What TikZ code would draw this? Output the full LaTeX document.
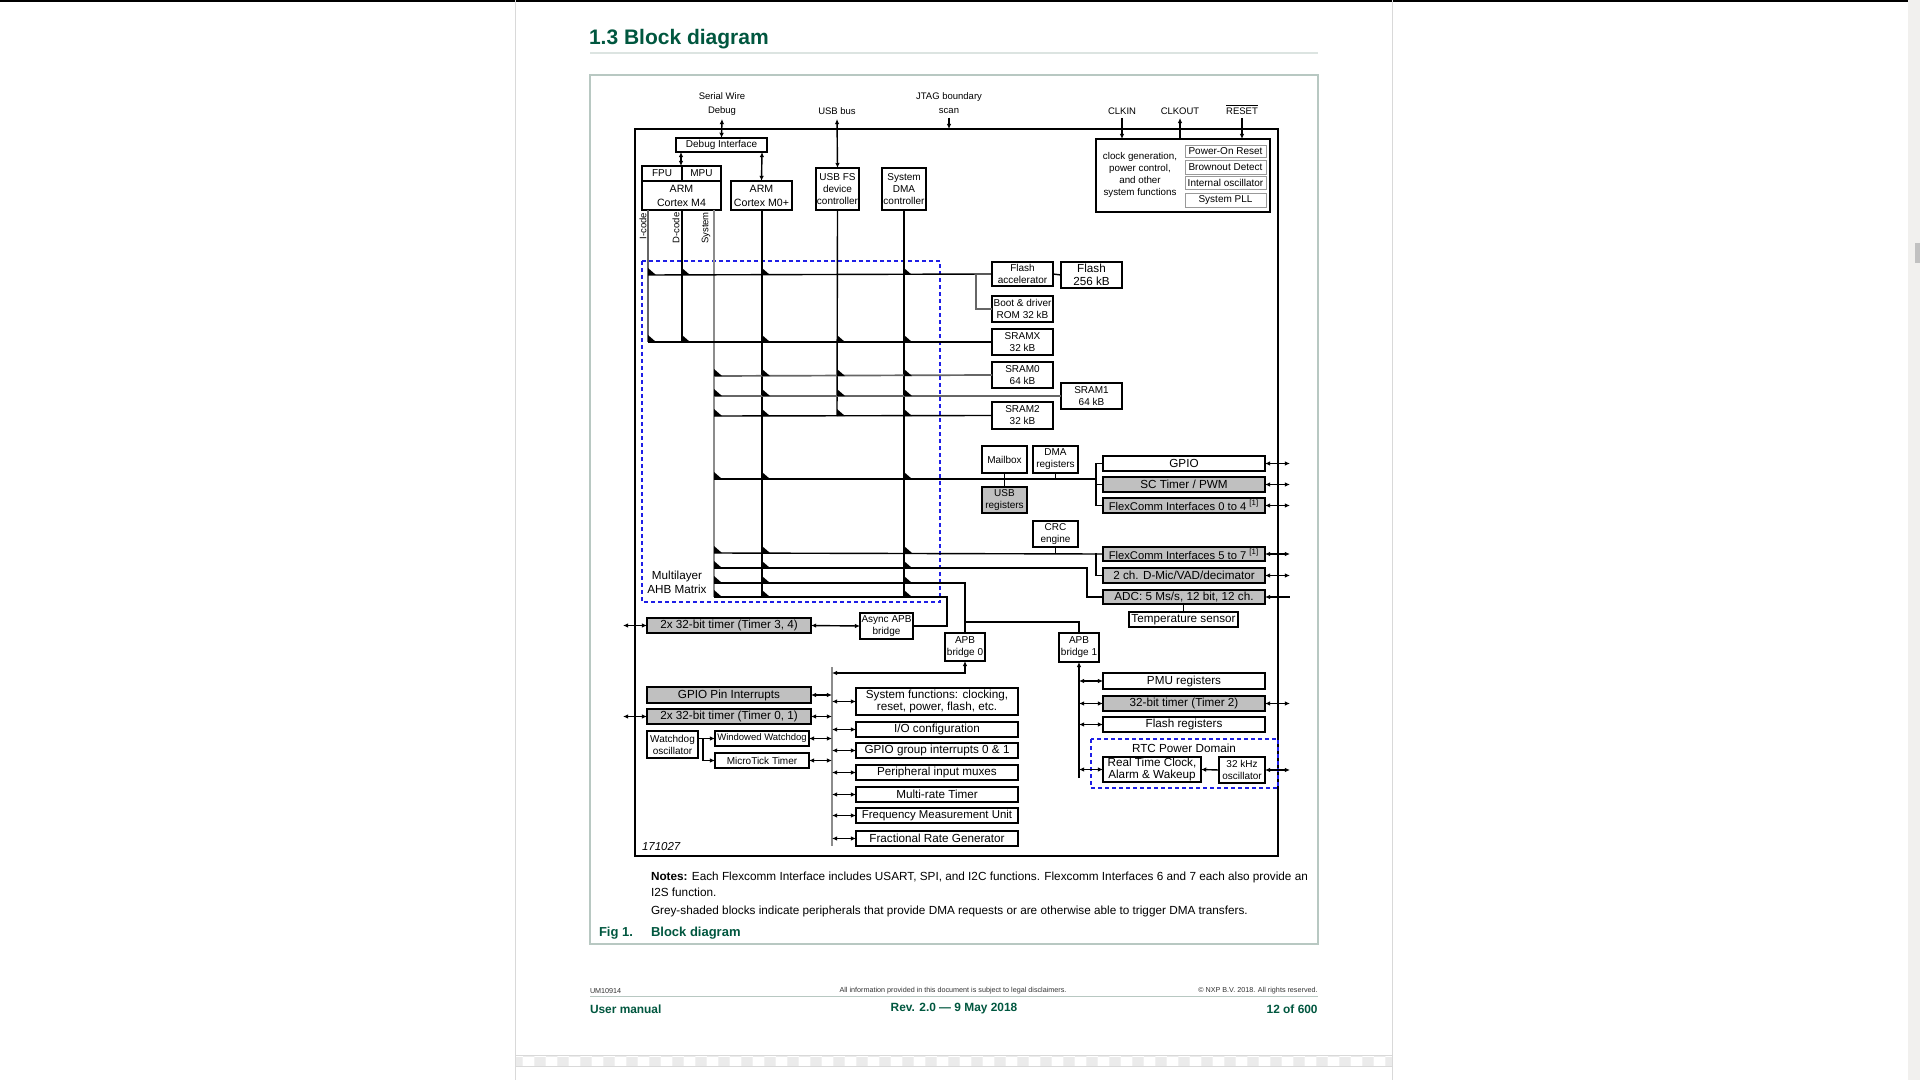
\documentclass[tikz,border=0pt]{standalone}
\usepackage{fontspec}
\setmainfont{Liberation Sans}
\usetikzlibrary{arrows.meta,patterns}

\definecolor{nxpg}{HTML}{00573F}
\definecolor{boxg}{HTML}{C0C0C0}
\definecolor{dblue}{HTML}{1E1EE6}
\definecolor{framec}{HTML}{B8C8C2}
\definecolor{rulec}{HTML}{DCE4E1}
\definecolor{edgec}{HTML}{D9D9D9}
\definecolor{sbar}{HTML}{F1F0EE}
\definecolor{thumb}{HTML}{C1C1C1}
\definecolor{ftxt}{HTML}{333333}

% type sizes
\newcommand\dsm{\fontsize{5}{6}\selectfont}
\newcommand\dlg{\fontsize{5.85}{6.4}\selectfont}
\newcommand\dfc{\fontsize{5.6}{6.4}\selectfont}
\newcommand\darm{\fontsize{5.3}{7}\selectfont}
\newcommand\dclk{\fontsize{4.9}{6.1}\selectfont}
\newcommand\dtop{\fontsize{4.75}{7}\selectfont}
\newcommand\nts{\fontsize{5.88}{7}\selectfont}
\newcommand\figf{\fontsize{6.5}{8}\selectfont\bfseries}
\newcommand\hdr{\fontsize{10.5}{12}\selectfont\bfseries}
\newcommand\fsm{\fontsize{3.6}{4}\selectfont}
\newcommand\fbg{\fontsize{5.95}{7}\selectfont\bfseries}

% block: [options]{name}{x1}{y1}{x2}{y2}{text}, corners in pixels
\newcommand\bx[7][]{\node[blk,minimum width={(#5-#3)*0.5pt},minimum height={(#6-#4)*0.5pt},#1] (#2) at ({(#3+#5)/2},{(#4+#6)/2}) {#7};}
% switch point of the bus matrix
\newcommand\tri[2]{\fill (#1,#2) -- ++(0,-7) -- ++(8,7) -- cycle;}

\begin{document}
\begin{tikzpicture}[x=0.5pt,y=-0.5pt,>={Latex[length=2.6pt,width=2.3pt]},
  blk/.style={draw,fill=white,line width=0.75pt,inner sep=0pt,outer sep=0pt,align=center,font=\dsm},
  big/.style={font=\dlg},
  gr/.style={fill=boxg},
  sub/.style={draw=black!40,line width=0.4pt},
  bus/.style={line width=0.7pt},
  gbus/.style={line width=0.85pt,draw=black!60},
  sbus/.style={line width=1pt,draw=black!45},
  lbl/.style={inner sep=0pt,outer sep=0pt,align=center,font=\dtop},
  bdash/.style={draw=dblue,line width=0.6pt,dash pattern=on 2pt off 1.5pt},
  txt/.style={inner sep=0pt,outer sep=0pt,anchor=west}]

\useasboundingbox (0,0) rectangle (1920,1080);
\fill[white] (0,0) rectangle (1920,1080);

% viewer chrome
\fill[black] (0,0) rectangle (1908,2);
\fill[sbar] (1908,0) rectangle (1920,1080);
\fill[thumb] (1915,243) rectangle (1920,263);
\fill[pattern=checkerboard,pattern color=black!8] (515,1055) rectangle (1392,1066);
\draw[edgec,line width=0.4pt] (515,1055) -- (1392,1055) (515,1066) -- (1392,1066);
\draw[edgec,line width=0.5pt] (515,0) -- (515,1080) (1392,0) -- (1392,1080);

% page heading and figure frame
\node[txt,font=\hdr,text=nxpg] (title) at (589,39) {1.3 Block diagram};
\draw[rulec,line width=1pt] (590,53) -- (1318,53);
\draw[framec,line width=0.6pt] (590,75) rectangle (1318,944);

% chip outline
\bx[line width=1.25pt]{chip}{635}{129}{1278}{856}{}

% external signals
\node[lbl] (swd) at (722,104) {Serial Wire\\Debug};
\node[lbl] (usbbus) at (837,111) {USB bus};
\node[lbl] (jtag) at (949,103) {JTAG boundary\\scan};
\node[lbl] (clkin) at (1122,111) {CLKIN};
\node[lbl] (clkout) at (1180,111) {CLKOUT};
\node[lbl] (rst) at (1242,111) {RESET};
\draw[line width=0.4pt] ([yshift=1.2pt]rst.north west) -- ([yshift=1.2pt]rst.north east);

% masters
\bx{dbg}{676}{138}{767}{152}{Debug Interface}
\bx{fpu}{642}{166}{682}{181}{FPU}
\bx{mpu}{682}{166}{721}{181}{MPU}
\bx[font=\darm]{m4}{642}{181}{721}{210}{ARM\\Cortex M4}
\bx[font=\darm]{m0}{731}{181}{792}{210}{ARM\\Cortex M0+}
\bx{usbc}{816}{168}{859}{210}{USB FS\\device\\controller}
\bx{dmac}{882}{168}{926}{210}{System\\DMA\\controller}

\node[lbl,rotate=90] (licode) at (643,226) {I-code};
\node[lbl,rotate=90] (ldcode) at (676,228) {D-code};
\node[lbl,rotate=90] (lsys) at (706,228) {System};

% system control block
\bx{clk}{1096}{139}{1270}{212}{}
\node[lbl,font=\dclk] (clktxt) at (1140,175) {clock generation,\\power control,\\and other\\system functions};
\bx[sub]{por}{1185}{145}{1266}{157}{Power-On Reset}
\bx[sub]{bod}{1185}{160}{1266}{174}{Brownout Detect}
\bx[sub]{iosc}{1185}{176}{1266}{189}{Internal oscillator}
\bx[sub]{pll}{1185}{193}{1266}{207}{System PLL}

% memories
\bx{facc}{992}{262}{1053}{286}{Flash\\accelerator}
\bx[big]{flash}{1061}{262}{1122}{288}{Flash\\256 kB}
\bx{boot}{992}{296}{1053}{322}{Boot \& driver\\ROM 32 kB}
\bx{sramx}{992}{329}{1053}{355}{SRAMX\\32 kB}
\bx{sram0}{992}{362}{1053}{388}{SRAM0\\64 kB}
\bx{sram1}{1061}{383}{1122}{409}{SRAM1\\64 kB}
\bx{sram2}{992}{402}{1053}{429}{SRAM2\\32 kB}

% AHB slaves
\bx{mbox}{982}{446}{1027}{473}{Mailbox}
\bx{dmar}{1033}{446}{1078}{473}{DMA\\registers}
\bx[gr]{usbr}{982}{487}{1027}{513}{USB\\registers}
\bx[big]{gpio}{1103}{456}{1265}{471}{GPIO}
\bx[big,gr]{sct}{1103}{477}{1265}{492}{SC Timer / PWM}
\bx[gr,font=\dfc]{fc04}{1103}{498}{1265}{513}{FlexComm Interfaces 0 to 4 \textsuperscript{[1]}}
\bx{crc}{1033}{521}{1078}{547}{CRC\\engine}
\bx[gr,font=\dfc]{fc57}{1103}{547}{1265}{561}{FlexComm Interfaces 5 to 7 \textsuperscript{[1]}}
\bx[big,gr]{dmic}{1103}{568}{1265}{583}{2 ch. D-Mic/VAD/decimator}
\bx[big,gr]{adc}{1103}{590}{1265}{604}{ADC: 5 Ms/s, 12 bit, 12 ch.}
\bx[big]{temp}{1129}{612}{1238}{627}{Temperature sensor}

% bridges
\bx[big,gr]{tim34}{647}{618}{811}{633}{2x 32-bit timer (Timer 3, 4)}
\bx{async}{860}{613}{913}{639}{Async APB\\bridge}
\bx{apb0}{945}{633}{985}{661}{APB\\bridge 0}
\bx{apb1}{1059}{633}{1099}{662}{APB\\bridge 1}

% APB bridge 0 peripherals
\bx[big,gr]{gpint}{647}{687}{811}{703}{GPIO Pin Interrupts}
\bx[big,gr]{tim01}{647}{709}{811}{724}{2x 32-bit timer (Timer 0, 1)}
\bx{wdosc}{647}{731}{698}{758}{Watchdog\\oscillator}
\bx[font=\fontsize{4.75}{6}\selectfont]{wwdt}{715}{731}{809}{746}{Windowed Watchdog}
\bx{utick}{715}{753}{809}{768}{MicroTick Timer}
\bx[big]{sysf}{856}{688}{1018}{715}{System functions: clocking,\\reset, power, flash, etc.}
\bx[big]{iocon}{856}{722}{1018}{737}{I/O configuration}
\bx[big]{gint}{856}{743}{1018}{758}{GPIO group interrupts 0 \& 1}
\bx[big]{pmux}{856}{765}{1018}{780}{Peripheral input muxes}
\bx[big]{mrt}{856}{787}{1018}{802}{Multi-rate Timer}
\bx[font=\fontsize{5.7}{6.4}\selectfont]{fmu}{856}{808}{1018}{823}{Frequency Measurement Unit}
\bx[big]{frg}{856}{831}{1018}{846}{Fractional Rate Generator}

% APB bridge 1 peripherals
\bx[big]{pmu}{1103}{673}{1265}{689}{PMU registers}
\bx[big,gr]{tim2}{1103}{696}{1265}{711}{32-bit timer (Timer 2)}
\bx[big]{flreg}{1103}{717}{1265}{732}{Flash registers}
\draw[bdash] (1091,739) rectangle (1278,788);
\node[lbl,font=\dlg] (rtcpd) at (1184,748) {RTC Power Domain};
\bx[big]{rtc}{1103}{757}{1201}{782}{Real Time Clock,\\Alarm \& Wakeup}
\bx{osc32}{1219}{757}{1265}{783}{32 kHz\\oscillator}

% bus matrix outline
\draw[bdash] (642,261) rectangle (940,602);
\node[lbl,font=\fontsize{5.85}{7}\selectfont] (mlab) at (677,582) {Multilayer\\AHB Matrix};

% top-level connections
\draw[<->,bus] (722,119) -- (dbg.north);
\draw[<->,bus] (681,152) -- (681,166);
\draw[<->,bus] (762,152) -- (m0.north);
\draw[<->,bus] (837,119) -- (usbc.north);
\draw[->,bus] (949,118) -- (jtag.south |- chip.north);
\draw[->,bus] (1122,118) -- (clkin.south |- clk.north);
\draw[->,bus] (clkout.south |- clk.north) -- (1180,118);
\draw[->,bus] (1242,118) -- (rst.south |- clk.north);

% master buses
\draw[gbus] (648,210) -- (648,342);
\draw[bus] (682,210) -- (682,342);
\draw[sbus] (714,210) -- (714,597);
\draw[bus] (762,210) -- (762,597);
\draw[bus] (usbc.south) -- (837,416);
\draw[bus] (dmac.south) -- (904,597);

% slave buses
\draw[bus] (648,275) -- (facc.west);
\draw[bus] (facc.east) -- (flash.west);
\draw[gbus] (976,275) |- (boot.west);
\draw[bus] (648,342) -- (sramx.west);
\draw[gbus] (714,376) -- (sram0.west);
\draw[gbus] (714,396) -- (sram1.west);
\draw[bus] (714,416) -- (sram2.west);
\draw[bus] (714,479) -- (1096,479);
\draw[bus] (mbox.south) -- (usbr.north);
\draw[bus] (dmar.south) -- ++(0,6);
\draw[bus] (gpio.west) -- ++(-7,0) |- (fc04.west);
\draw[bus] (sct.west) -- ++(-7,0);
\draw[bus] (714,553) -- (fc57.west);
\draw[bus] (crc.south) -- ++(0,6);
\draw[bus] (1096,553) |- (dmic.west);
\draw[bus] (714,568) -- (1087,568) |- (adc.west);
\draw[bus] (adc.south -| temp.north) -- (temp.north);
\draw[bus] (714,583) -- (965,583) -- (apb0.north);
\draw[bus] (965,622) -| (apb1.north);
\draw[bus] (714,597) -- (947,597) |- (async.east);

% switch points
\foreach \x in {648,682,762,904} \tri{\x}{275};
\foreach \x in {648,682,762,837,904} \tri{\x}{342};
\foreach \y in {376,396,416} {\foreach \x in {714,762,837,904} \tri{\x}{\y};}
\foreach \y in {479,553,568,583,597} {\foreach \x in {714,762,904} \tri{\x}{\y};}

% pins on the right edge
\foreach \n in {gpio,sct,fc04,fc57,dmic,tim2,osc32} \draw[<->,bus] (\n.east) -- ++(25,0);
\draw[<-,bus] (adc.east) -- ++(25,0);

% async bridge
\draw[<->,bus] (tim34.east) -- (async.west);
\draw[<->,bus] (tim34.west) -- ++(-24,0);

% APB bridge 0 bus
\coordinate (pbus) at (832,700);
\draw[sbus] (832,667) -- (832,846);
\draw[<->,bus] (832,673) -- (965,673) -- (apb0.south);
\foreach \n in {gpint,tim01,wwdt,utick} \draw[<->,bus] (\n.east) -- (\n.east -| pbus);
\foreach \n in {sysf,iocon,gint,pmux,mrt,fmu,frg} \draw[<->,bus] (pbus |- \n.west) -- (\n.west);
\draw[<->,bus] (tim01.west) -- ++(-24,0);
\draw[->,bus] (wdosc.east |- wwdt.west) -- (wwdt.west);
\draw[->,bus] (703,738.5) |- (utick.west);

% APB bridge 1 bus
\coordinate (abus) at (1079,700);
\draw[->,bus] (1079,778) -- (apb1.south);
\foreach \n in {pmu,tim2,flreg,rtc} \draw[<->,bus] (abus |- \n.west) -- (\n.west);
\draw[->,bus] (osc32.west) -- (rtc.east);

\node[txt,font=\fontsize{5.75}{7}\selectfont\itshape] (figno) at (642,847) {171027};

% notes and caption
\node[txt,font=\nts] (n1) at (651,877) {\textbf{Notes:} Each Flexcomm Interface includes USART, SPI, and I2C functions. Flexcomm Interfaces 6 and 7 each also provide an};
\node[txt,font=\nts] (n2) at (651,892) {I2S function.};
\node[txt,font=\nts] (n3) at (651,911) {Grey-shaded blocks indicate peripherals that provide DMA requests or are otherwise able to trigger DMA transfers.};
\node[txt,font=\figf,text=nxpg] (fig) at (599,933.5) {Fig 1.};
\node[txt,font=\figf,text=nxpg] (figt) at (651,933.5) {Block diagram};

% page footer
\node[txt,font=\fsm,text=ftxt] (docid) at (590,991) {UM10914};
\node[inner sep=0pt,font=\fsm,text=ftxt] (disc) at (953,991) {All information provided in this document is subject to legal disclaimers.};
\node[inner sep=0pt,anchor=east,font=\fsm,text=ftxt] (copy) at (1318,991) {\textcopyright\ NXP B.V. 2018. All rights reserved.};
\draw[framec,line width=0.5pt] (590,996) -- (1318,996);
\node[txt,font=\fbg,text=nxpg] (um) at (590,1009) {User manual};
\node[inner sep=0pt,font=\fbg,text=nxpg] (rev) at (954,1009) {Rev. 2.0 --- 9 May 2018};
\node[inner sep=0pt,anchor=east,font=\fbg,text=nxpg] (pg) at (1318,1009) {12 of 600};
\end{tikzpicture}
\end{document}
